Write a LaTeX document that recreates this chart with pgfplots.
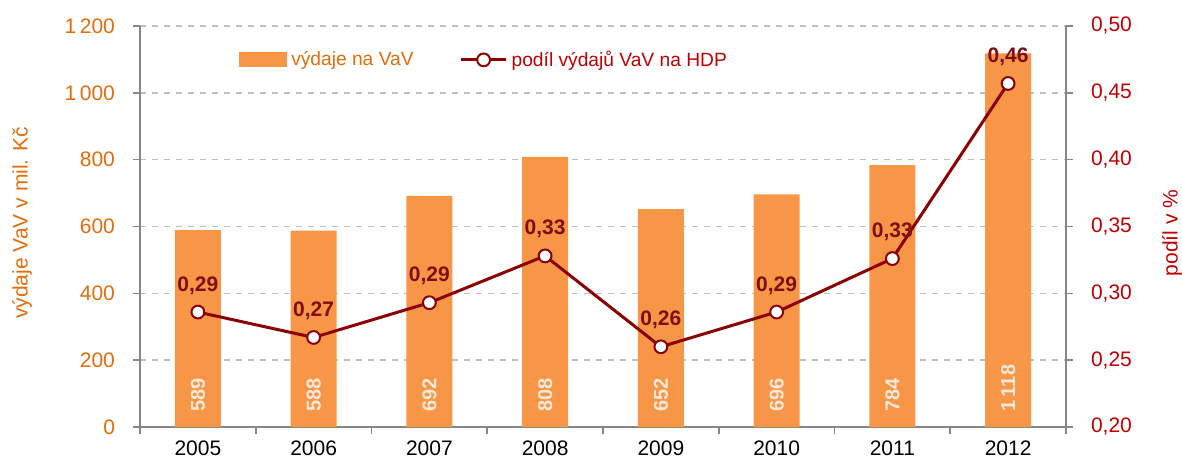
\documentclass[border=0pt]{standalone}
\usepackage{pgfplots}
\pgfplotsset{compat=1.18}
\usepackage{fontspec}
\setmainfont{Liberation Sans}
\definecolor{barcol}{HTML}{F79646}
\definecolor{lefttxt}{HTML}{E46C0A}
\definecolor{righttxt}{HTML}{C00000}
\definecolor{linecol}{HTML}{8B0000}
\definecolor{lbltxt}{HTML}{7F0F0F}
\definecolor{axgray}{HTML}{868686}
\definecolor{gridgray}{HTML}{BFBFBF}
\definecolor{barlbl}{HTML}{FDE9D9}
\pgfplotsset{
  linelegend/.style={legend image code/.code={\draw[mark repeat=2,mark phase=2,##1] plot coordinates {(0pt,0pt) (11.25pt,0pt) (22.5pt,0pt)};}},
  barlegend/.style={legend image code/.code={\fill[barcol] (0pt,-3.5pt) rectangle (23.5pt,3.5pt);}},
}
\begin{document}
\begin{tikzpicture}
\pgfplotsset{
  common/.style={
    scale only axis, width=463pt, height=200.5pt,
    xmin=-0.5, xmax=7.5,
    font=\fontsize{10.5}{12}\selectfont,
    tick align=outside, major tick length=3.5pt,
    axis line style={draw=axgray, line width=0.8pt},
    tick style={draw=axgray, line width=0.8pt},
    /pgf/number format/assume math mode=true,
  }
}
\begin{axis}[common,
  axis x line*=bottom, axis y line*=left,
  ymin=0, ymax=1200, ytick={0,200,400,600,800,1000,1200},
  xtick={-0.5,0.5,...,7.5},
  xticklabels={2005,2006,2007,2008,2009,2010,2011,2012},
  x tick label as interval,
  ymajorgrids, major grid style={draw=gridgray, dashed, line width=0.8pt},
  yticklabel style={text=lefttxt, xshift=-5.5pt, /pgf/number format/1000 sep={\,}},
  ylabel={výdaje VaV v mil. Kč},
  ylabel style={at={(axis description cs:-0.1274,0.509)}, anchor=center, text=lefttxt},
]
\addplot[ybar, bar width=23pt, fill=barcol, draw=none]
  coordinates {(0,589) (1,588) (2,692) (3,808) (4,652) (5,696) (6,784) (7,1118)};
\addplot[draw=none, mark=none, point meta=explicit symbolic, nodes near coords,
  nodes near coords style={rotate=90, anchor=west, inner sep=0pt, text=barlbl,
    font=\fontsize{10}{12}\selectfont\bfseries}]
  coordinates {(0,45)[589] (1,45)[588] (2,45)[692] (3,45)[808] (4,45)[652] (5,45)[696] (6,45)[784] (7,45)[1\,118]};
\end{axis}
\begin{axis}[common,
  axis x line=none, axis y line*=right,
  ymin=0.2, ymax=0.5, ytick={0.2,0.25,0.3,0.35,0.4,0.45,0.5},
  yticklabel style={text=righttxt, xshift=5.5pt, /pgf/number format/.cd, fixed, fixed zerofill, precision=2, use comma},
  ylabel={podíl v \%},
  ylabel style={at={(axis description cs:1.1145,0.484)}, anchor=center, text=righttxt},
  legend style={at={(0.1005,0.9155)}, anchor=west, draw=none, fill=none, legend columns=2,
    font=\fontsize{9.6}{11}\selectfont,
    /tikz/every even column/.append style={column sep=21pt}},
  legend cell align=left,
]
\addlegendimage{barlegend}
\addlegendentry{\textcolor{lefttxt}{výdaje na VaV}}
\addplot[draw=linecol, line width=1.5pt, mark=*, mark size=3.2pt,
  mark options={fill=white, draw=linecol, line width=1pt},
  linelegend,
  nodes near coords={\pgfmathprintnumber[fixed, fixed zerofill, precision=2, use comma, assume math mode=true]{\pgfplotspointmeta}},
  nodes near coords style={anchor=south, yshift=5pt, text=lbltxt, font=\fontsize{10.5}{12}\selectfont\bfseries}]
  coordinates {(0,0.286) (1,0.267) (2,0.293) (3,0.328) (4,0.260) (5,0.286) (6,0.326) (7,0.457)};
\addlegendentry{\textcolor{righttxt}{podíl výdajů VaV na HDP}}
\end{axis}
\pgfresetboundingbox
\path (-70pt,-17pt) rectangle (521pt,213.5pt);
\end{tikzpicture}
\end{document}
